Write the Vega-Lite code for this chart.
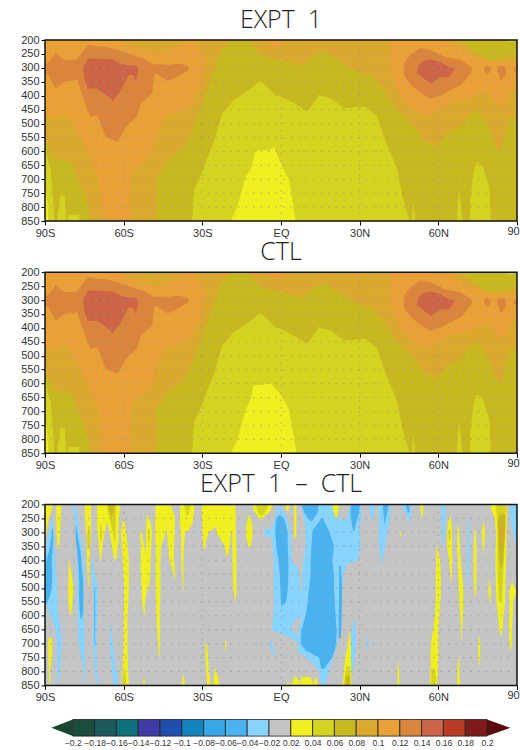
{"$schema":"https://vega.github.io/schema/vega-lite/v6.json","background":"white","padding":{"left":20,"top":8,"right":0,"bottom":0},"spacing":15.5,
"config":{"view":{"stroke":null},"axis":{"title":null,"labelFont":"Liberation Sans","labelFontSize":11,"labelColor":"#333","tickColor":"#000","tickSize":4,"domain":false,"grid":false,"labelPadding":2,"zindex":1,"labelOverlap":false,"labelBound":false,"labelFlush":false},"title":{"font":"Open Sans","fontWeight":300,"fontSize":25,"color":"#222","offset":1,"anchor":"middle"}},
"datasets":{
"f":[{"x":-90,"x2":90,"t":200,"b":850}],
"n":[{"x":88.7,"y":888,"txt":"90"}],
"gx":[{"x":-60},{"x":-30},{"x":0},{"x":30},{"x":60}],
"gy":[{"y":250},{"y":300},{"y":350},{"y":400},{"y":450},{"y":500},{"y":550},{"y":600},{"y":650},{"y":700},{"y":750},{"y":800}],
"m":[
{"s":"base","c":0.06,"x":-90,"t":200,"b":850},{"s":"base","c":0.06,"x":90,"t":200,"b":850},
{"s":"a8","c":0.08,"x":-90,"t":200,"b":559},{"s":"a8","c":0.08,"x":-88.5,"t":200,"b":590},{"s":"a8","c":0.08,"x":-86.5,"t":200,"b":625},{"s":"a8","c":0.08,"x":-84,"t":200,"b":631},{"s":"a8","c":0.08,"x":-80,"t":200,"b":635},{"s":"a8","c":0.08,"x":-78,"t":200,"b":690},{"s":"a8","c":0.08,"x":-75.5,"t":200,"b":740},{"s":"a8","c":0.08,"x":-73.5,"t":200,"b":800},{"s":"a8","c":0.08,"x":-72.7,"t":200,"b":850},{"s":"a8","c":0.08,"x":-47.8,"t":200,"b":850},{"s":"a8","c":0.08,"x":-47.6,"t":200,"b":695},{"s":"a8","c":0.08,"x":-43,"t":200,"b":630},{"s":"a8","c":0.08,"x":-37.5,"t":200,"b":590},{"s":"a8","c":0.08,"x":-34.4,"t":200,"b":535},{"s":"a8","c":0.08,"x":-30.6,"t":200,"b":439},{"s":"a8","c":0.08,"x":-25.5,"t":200,"b":308},{"s":"a8","c":0.08,"x":-22.9,"t":200,"b":236},{"s":"a8","c":0.08,"x":-19.2,"t":200,"b":206},{"s":"a8","c":0.08,"x":-14,"t":200,"b":201},{"s":"a8","c":0.08,"x":-11,"t":200,"b":215},{"s":"a8","c":0.08,"x":-7.8,"t":200,"b":254},{"s":"a8","c":0.08,"x":0,"t":200,"b":272},{"s":"a8","c":0.08,"x":7.5,"t":200,"b":290},{"s":"a8","c":0.08,"x":13.9,"t":200,"b":248},{"s":"a8","c":0.08,"x":17,"t":200,"b":242},{"s":"a8","c":0.08,"x":22.8,"t":200,"b":278},{"s":"a8","c":0.08,"x":29.1,"t":200,"b":314},{"s":"a8","c":0.08,"x":34.2,"t":200,"b":326},{"s":"a8","c":0.08,"x":39.3,"t":200,"b":380},{"s":"a8","c":0.08,"x":44.4,"t":200,"b":451},{"s":"a8","c":0.08,"x":50.7,"t":200,"b":511},{"s":"a8","c":0.08,"x":54.5,"t":200,"b":559},{"s":"a8","c":0.08,"x":59,"t":200,"b":583},{"s":"a8","c":0.08,"x":63.4,"t":200,"b":535},{"s":"a8","c":0.08,"x":68.5,"t":205,"b":511},{"s":"a8","c":0.08,"x":72.3,"t":228,"b":463},{"s":"a8","c":0.08,"x":74.9,"t":255,"b":451},{"s":"a8","c":0.08,"x":78.7,"t":272,"b":499},{"s":"a8","c":0.08,"x":81.9,"t":270,"b":583},{"s":"a8","c":0.08,"x":83.8,"t":268,"b":601},{"s":"a8","c":0.08,"x":85.7,"t":265,"b":535},{"s":"a8","c":0.08,"x":87.6,"t":262,"b":469},{"s":"a8","c":0.08,"x":90,"t":260,"b":499},
{"s":"a10","c":0.1,"x":-90,"t":200,"b":469},{"s":"a10","c":0.1,"x":-87.8,"t":200,"b":475},{"s":"a10","c":0.1,"x":-85.3,"t":200,"b":475},{"s":"a10","c":0.1,"x":-82.1,"t":200,"b":457},{"s":"a10","c":0.1,"x":-79.5,"t":200,"b":499},{"s":"a10","c":0.1,"x":-76,"t":200,"b":559},{"s":"a10","c":0.1,"x":-72.6,"t":200,"b":619},{"s":"a10","c":0.1,"x":-69.6,"t":200,"b":691},{"s":"a10","c":0.1,"x":-68.8,"t":200,"b":775},{"s":"a10","c":0.1,"x":-67.8,"t":200,"b":850},{"s":"a10","c":0.1,"x":-60.5,"t":200,"b":850},{"s":"a10","c":0.1,"x":-57.4,"t":222,"b":850},{"s":"a10","c":0.1,"x":-57.2,"t":222,"b":667},{"s":"a10","c":0.1,"x":-53.5,"t":232,"b":649},{"s":"a10","c":0.1,"x":-49.7,"t":245,"b":607},{"s":"a10","c":0.1,"x":-47.2,"t":248,"b":540},{"s":"a10","c":0.1,"x":-44.6,"t":245,"b":475},{"s":"a10","c":0.1,"x":-39.5,"t":220,"b":457},{"s":"a10","c":0.1,"x":-34.4,"t":200,"b":439},{"s":"a10","c":0.1,"x":-30.6,"t":230,"b":356},{"s":"a10","c":0.1,"x":-28.7,"t":284,"b":284},
{"s":"e10","c":0.1,"x":-5.2,"t":200,"b":200},{"s":"e10","c":0.1,"x":-2.7,"t":200,"b":230},{"s":"e10","c":0.1,"x":0,"t":200,"b":218},{"s":"e10","c":0.1,"x":3.1,"t":200,"b":200},
{"s":"f10","c":0.1,"x":28,"t":200,"b":200},{"s":"f10","c":0.1,"x":29.5,"t":200,"b":209},{"s":"f10","c":0.1,"x":31,"t":200,"b":200},
{"s":"r10","c":0.1,"x":41.6,"t":200,"b":200},{"s":"r10","c":0.1,"x":41.8,"t":200,"b":308},{"s":"r10","c":0.1,"x":45.6,"t":200,"b":403},{"s":"r10","c":0.1,"x":48.2,"t":200,"b":439},{"s":"r10","c":0.1,"x":52,"t":200,"b":457},{"s":"r10","c":0.1,"x":55.8,"t":200,"b":469},{"s":"r10","c":0.1,"x":59,"t":200,"b":457},{"s":"r10","c":0.1,"x":64.7,"t":212,"b":427},{"s":"r10","c":0.1,"x":68.5,"t":230,"b":415},{"s":"r10","c":0.1,"x":73.6,"t":254,"b":403},{"s":"r10","c":0.1,"x":78.7,"t":272,"b":380},{"s":"r10","c":0.1,"x":81.9,"t":275,"b":421},{"s":"r10","c":0.1,"x":83.8,"t":278,"b":445},{"s":"r10","c":0.1,"x":85.7,"t":280,"b":421},{"s":"r10","c":0.1,"x":87.6,"t":282,"b":380},{"s":"r10","c":0.1,"x":90,"t":284,"b":380},
{"s":"l12","c":0.12,"x":-90,"t":284,"b":326},{"s":"l12","c":0.12,"x":-89.1,"t":284,"b":320},{"s":"l12","c":0.12,"x":-85.9,"t":248,"b":374},{"s":"l12","c":0.12,"x":-82.8,"t":272,"b":350},{"s":"l12","c":0.12,"x":-77.7,"t":269,"b":344},{"s":"l12","c":0.12,"x":-75.1,"t":236,"b":415},{"s":"l12","c":0.12,"x":-73.9,"t":220,"b":451},{"s":"l12","c":0.12,"x":-72.6,"t":218,"b":475},{"s":"l12","c":0.12,"x":-70,"t":224,"b":469},{"s":"l12","c":0.12,"x":-66.9,"t":224,"b":547},{"s":"l12","c":0.12,"x":-62.4,"t":236,"b":565},{"s":"l12","c":0.12,"x":-58.6,"t":248,"b":505},{"s":"l12","c":0.12,"x":-54.8,"t":260,"b":475},{"s":"l12","c":0.12,"x":-53.5,"t":263,"b":427},{"s":"l12","c":0.12,"x":-49.1,"t":284,"b":392},{"s":"l12","c":0.12,"x":-48.2,"t":290,"b":320},{"s":"l12","c":0.12,"x":-47.2,"t":286,"b":322},{"s":"l12","c":0.12,"x":-43.3,"t":290,"b":347},{"s":"l12","c":0.12,"x":-39.5,"t":284,"b":332},{"s":"l12","c":0.12,"x":-35.7,"t":292,"b":310},{"s":"l12","c":0.12,"x":-35.2,"t":302,"b":304},
{"s":"l14","c":0.14,"x":-75.4,"t":302,"b":304},{"s":"l14","c":0.14,"x":-75,"t":290,"b":340},{"s":"l14","c":0.14,"x":-73.6,"t":266,"b":375},{"s":"l14","c":0.14,"x":-70,"t":266,"b":374},{"s":"l14","c":0.14,"x":-65,"t":269,"b":409},{"s":"l14","c":0.14,"x":-64.3,"t":270,"b":421},{"s":"l14","c":0.14,"x":-61.1,"t":284,"b":380},{"s":"l14","c":0.14,"x":-58,"t":292,"b":326},{"s":"l14","c":0.14,"x":-56.5,"t":292,"b":326},{"s":"l14","c":0.14,"x":-55.4,"t":292,"b":350},{"s":"l14","c":0.14,"x":-54.4,"t":302,"b":314},
{"s":"r12","c":0.12,"x":46.9,"t":284,"b":326},{"s":"r12","c":0.12,"x":48.2,"t":266,"b":344},{"s":"r12","c":0.12,"x":49.5,"t":254,"b":362},{"s":"r12","c":0.12,"x":52,"t":236,"b":380},{"s":"r12","c":0.12,"x":53.3,"t":230,"b":390},{"s":"r12","c":0.12,"x":57.1,"t":236,"b":412},{"s":"r12","c":0.12,"x":62.2,"t":260,"b":392},{"s":"r12","c":0.12,"x":68.5,"t":272,"b":362},{"s":"r12","c":0.12,"x":72.3,"t":296,"b":320},{"s":"r12","c":0.12,"x":73,"t":308,"b":310},
{"s":"r14","c":0.14,"x":52,"t":296,"b":320},{"s":"r14","c":0.14,"x":54.5,"t":274,"b":338},{"s":"r14","c":0.14,"x":57.1,"t":269,"b":356},{"s":"r14","c":0.14,"x":60.9,"t":280,"b":335},{"s":"r14","c":0.14,"x":64.1,"t":296,"b":332},{"s":"r14","c":0.14,"x":66,"t":302,"b":308},
{"s":"b1","c":0.12,"x":77.4,"t":300,"b":310},{"s":"b1","c":0.12,"x":78.7,"t":292,"b":323},{"s":"b1","c":0.12,"x":80,"t":300,"b":312},
{"s":"b2","c":0.12,"x":82.5,"t":298,"b":312},{"s":"b2","c":0.12,"x":84,"t":292,"b":347},{"s":"b2","c":0.12,"x":85.7,"t":298,"b":320},
{"s":"b3","c":0.12,"x":88.9,"t":300,"b":312},{"s":"b3","c":0.12,"x":90,"t":296,"b":317},
{"s":"g4t","c":0.04,"x":85.7,"t":200,"b":200},{"s":"g4t","c":0.04,"x":87,"t":200,"b":208},{"s":"g4t","c":0.04,"x":89,"t":200,"b":207},{"s":"g4t","c":0.04,"x":89.5,"t":200,"b":200},
{"s":"g4","c":0.04,"x":-33.9,"t":850,"b":850},{"s":"g4","c":0.04,"x":-33.2,"t":739,"b":850},{"s":"g4","c":0.04,"x":-30,"t":673,"b":850},{"s":"g4","c":0.04,"x":-25.5,"t":559,"b":850},{"s":"g4","c":0.04,"x":-22.4,"t":463,"b":850},{"s":"g4","c":0.04,"x":-17.9,"t":415,"b":850},{"s":"g4","c":0.04,"x":-12.2,"t":380,"b":850},{"s":"g4","c":0.04,"x":-7.8,"t":345,"b":850},{"s":"g4","c":0.04,"x":-2.7,"t":392,"b":850},{"s":"g4","c":0.04,"x":5,"t":427,"b":850},{"s":"g4","c":0.04,"x":10,"t":457,"b":850},{"s":"g4","c":0.04,"x":14.5,"t":398,"b":850},{"s":"g4","c":0.04,"x":18.9,"t":409,"b":850},{"s":"g4","c":0.04,"x":24,"t":445,"b":850},{"s":"g4","c":0.04,"x":32.3,"t":439,"b":850},{"s":"g4","c":0.04,"x":36.7,"t":475,"b":850},{"s":"g4","c":0.04,"x":39.3,"t":547,"b":850},{"s":"g4","c":0.04,"x":41.8,"t":607,"b":850},{"s":"g4","c":0.04,"x":44.4,"t":667,"b":850},{"s":"g4","c":0.04,"x":46.3,"t":763,"b":850},{"s":"g4","c":0.04,"x":49.1,"t":850,"b":850},
{"s":"s1","c":0.04,"x":49.8,"t":850,"b":850},{"s":"s1","c":0.04,"x":50.4,"t":787,"b":850},{"s":"s1","c":0.04,"x":51.2,"t":850,"b":850},
{"s":"s2","c":0.04,"x":67.1,"t":850,"b":850},{"s":"s2","c":0.04,"x":67.8,"t":733,"b":850},{"s":"s2","c":0.04,"x":69.3,"t":850,"b":850},
{"s":"s3","c":0.04,"x":72,"t":850,"b":850},{"s":"s3","c":0.04,"x":72.2,"t":775,"b":850},{"s":"s3","c":0.04,"x":73.6,"t":667,"b":850},{"s":"s3","c":0.04,"x":75,"t":637,"b":850},{"s":"s3","c":0.04,"x":77,"t":655,"b":850},{"s":"s3","c":0.04,"x":79.5,"t":727,"b":850},{"s":"s3","c":0.04,"x":80,"t":850,"b":850},
{"s":"s4","c":0.04,"x":-90,"t":565,"b":850},{"s":"s4","c":0.04,"x":-89,"t":631,"b":850},{"s":"s4","c":0.04,"x":-87.8,"t":667,"b":850},{"s":"s4","c":0.04,"x":-87,"t":763,"b":850},{"s":"s4","c":0.04,"x":-86.5,"t":850,"b":850},
{"s":"s5","c":0.04,"x":-85.5,"t":850,"b":850},{"s":"s5","c":0.04,"x":-84,"t":757,"b":850},{"s":"s5","c":0.04,"x":-82.5,"t":763,"b":850},{"s":"s5","c":0.04,"x":-82,"t":850,"b":850},
{"s":"s6","c":0.04,"x":-81.5,"t":850,"b":850},{"s":"s6","c":0.04,"x":-81,"t":828,"b":850},{"s":"s6","c":0.04,"x":-77,"t":828,"b":850},{"s":"s6","c":0.04,"x":-76.8,"t":850,"b":850},
{"s":"s7","c":0.02,"x":-90,"t":727,"b":850},{"s":"s7","c":0.02,"x":-89.2,"t":775,"b":850},{"s":"s7","c":0.02,"x":-88.7,"t":850,"b":850},
{"s":"c2a","c":0.02,"x":-19.2,"t":850,"b":850},{"s":"c2a","c":0.02,"x":-16.6,"t":799,"b":850},{"s":"c2a","c":0.02,"x":-13.5,"t":691,"b":850},{"s":"c2a","c":0.02,"x":-11.6,"t":667,"b":850},{"s":"c2a","c":0.02,"x":-9.7,"t":601,"b":850},{"s":"c2a","c":0.02,"x":-7.7,"t":595,"b":850},{"s":"c2a","c":0.02,"x":-4.6,"t":597,"b":850},{"s":"c2a","c":0.02,"x":-2.7,"t":583,"b":850},{"s":"c2a","c":0.02,"x":-1.4,"t":613,"b":850},{"s":"c2a","c":0.02,"x":1.1,"t":667,"b":850},{"s":"c2a","c":0.02,"x":3.1,"t":703,"b":850},{"s":"c2a","c":0.02,"x":5.6,"t":850,"b":850},
{"s":"c2b","c":0.02,"x":-19.2,"t":850,"b":850},{"s":"c2b","c":0.02,"x":-16.6,"t":802,"b":850},{"s":"c2b","c":0.02,"x":-13.5,"t":694,"b":850},{"s":"c2b","c":0.02,"x":-11.6,"t":658,"b":850},{"s":"c2b","c":0.02,"x":-10.5,"t":605,"b":850},{"s":"c2b","c":0.02,"x":-7.7,"t":605,"b":850},{"s":"c2b","c":0.02,"x":-3.9,"t":599,"b":850},{"s":"c2b","c":0.02,"x":-2.7,"t":611,"b":850},{"s":"c2b","c":0.02,"x":0,"t":640,"b":850},{"s":"c2b","c":0.02,"x":3.1,"t":694,"b":850},{"s":"c2b","c":0.02,"x":5.9,"t":850,"b":850}
],
"d":[
{"s":"bg","c":-0.02,"y":200,"l":-90,"r":90},{"s":"bg","c":-0.02,"y":850,"l":-90,"r":90},
{"s":"L1","c":-0.04,"y":207,"l":-1.1,"r":0.1},{"s":"L1","c":-0.04,"y":250,"l":-2.4,"r":2.4},{"s":"L1","c":-0.04,"y":280,"l":-3.2,"r":3.2},{"s":"L1","c":-0.04,"y":295,"l":-6.7,"r":3.7},{"s":"L1","c":-0.04,"y":315,"l":-6,"r":3.7},{"s":"L1","c":-0.04,"y":320,"l":-3.5,"r":3.7},{"s":"L1","c":-0.04,"y":350,"l":-3.3,"r":3.7},{"s":"L1","c":-0.04,"y":400,"l":-2.9,"r":4.2},{"s":"L1","c":-0.04,"y":430,"l":-2.9,"r":6.5},{"s":"L1","c":-0.04,"y":450,"l":-2.9,"r":7},{"s":"L1","c":-0.04,"y":500,"l":-2.9,"r":7.5},{"s":"L1","c":-0.04,"y":550,"l":-2.7,"r":9.4},{"s":"L1","c":-0.04,"y":590,"l":-2.9,"r":9.4},{"s":"L1","c":-0.04,"y":620,"l":-3.2,"r":5},{"s":"L1","c":-0.04,"y":640,"l":-3.4,"r":4},{"s":"L1","c":-0.04,"y":655,"l":-3.2,"r":4.5},{"s":"L1","c":-0.04,"y":660,"l":-1,"r":5.5},{"s":"L1","c":-0.04,"y":680,"l":4,"r":7},{"s":"L1","c":-0.04,"y":695,"l":6,"r":8},
{"s":"L2","c":-0.04,"y":200,"l":7.5,"r":19},{"s":"L2","c":-0.04,"y":250,"l":8.8,"r":21.5},{"s":"L2","c":-0.04,"y":265,"l":9,"r":30},{"s":"L2","c":-0.04,"y":300,"l":9.4,"r":30},{"s":"L2","c":-0.04,"y":350,"l":9.4,"r":30.4},{"s":"L2","c":-0.04,"y":400,"l":8.5,"r":29.5},{"s":"L2","c":-0.04,"y":415,"l":8.3,"r":25},{"s":"L2","c":-0.04,"y":450,"l":8.1,"r":24},{"s":"L2","c":-0.04,"y":500,"l":8.1,"r":23.4},{"s":"L2","c":-0.04,"y":600,"l":8.1,"r":23},{"s":"L2","c":-0.04,"y":650,"l":6.8,"r":22.1},{"s":"L2","c":-0.04,"y":700,"l":6.5,"r":21.5},{"s":"L2","c":-0.04,"y":725,"l":6.2,"r":21},{"s":"L2","c":-0.04,"y":745,"l":8.8,"r":20},{"s":"L2","c":-0.04,"y":775,"l":12.7,"r":19},{"s":"L2","c":-0.04,"y":800,"l":14.5,"r":18.3},{"s":"L2","c":-0.04,"y":850,"l":15.5,"r":17},
{"s":"L3","c":-0.04,"y":200,"l":26.5,"r":30.7},{"s":"L3","c":-0.04,"y":265,"l":25,"r":30.7},
{"s":"L4","c":-0.04,"y":615,"l":27.8,"r":28.1},{"s":"L4","c":-0.04,"y":650,"l":27,"r":28.6},{"s":"L4","c":-0.04,"y":700,"l":26.6,"r":28.6},{"s":"L4","c":-0.04,"y":750,"l":26.5,"r":28.3},{"s":"L4","c":-0.04,"y":790,"l":26.5,"r":27.5},{"s":"L4","c":-0.04,"y":800,"l":26.4,"r":26.8},
{"s":"L5","c":-0.04,"y":200,"l":33.3,"r":36},{"s":"L5","c":-0.04,"y":225,"l":33.8,"r":35.5},{"s":"L5","c":-0.04,"y":255,"l":34.5,"r":34.8},
{"s":"L6","c":-0.04,"y":200,"l":37.2,"r":41.7},{"s":"L6","c":-0.04,"y":250,"l":37.2,"r":41.7},{"s":"L6","c":-0.04,"y":300,"l":37.2,"r":40.5},{"s":"L6","c":-0.04,"y":350,"l":37.5,"r":39.8},{"s":"L6","c":-0.04,"y":400,"l":38,"r":38.8},{"s":"L6","c":-0.04,"y":410,"l":38.3,"r":38.6},
{"s":"L7","c":-0.04,"y":200,"l":46,"r":50.2},{"s":"L7","c":-0.04,"y":220,"l":46.8,"r":49.5},{"s":"L7","c":-0.04,"y":250,"l":48.5,"r":49.5},{"s":"L7","c":-0.04,"y":265,"l":49,"r":49.3},
{"s":"L8","c":-0.04,"y":200,"l":60.9,"r":62.7},{"s":"L8","c":-0.04,"y":250,"l":61,"r":62.7},{"s":"L8","c":-0.04,"y":300,"l":61.4,"r":62.6},{"s":"L8","c":-0.04,"y":350,"l":61.7,"r":62},{"s":"L8","c":-0.04,"y":355,"l":61.8,"r":61.9},
{"s":"L9","c":-0.04,"y":245,"l":71.6,"r":71.8},{"s":"L9","c":-0.04,"y":300,"l":71.2,"r":72},{"s":"L9","c":-0.04,"y":400,"l":71,"r":71.9},{"s":"L9","c":-0.04,"y":450,"l":70.9,"r":71.6},{"s":"L9","c":-0.04,"y":500,"l":71,"r":71.3},{"s":"L9","c":-0.04,"y":510,"l":71.1,"r":71.2},
{"s":"L10","c":-0.04,"y":200,"l":87.2,"r":90},{"s":"L10","c":-0.04,"y":250,"l":87.3,"r":90},{"s":"L10","c":-0.04,"y":300,"l":88.5,"r":90},{"s":"L10","c":-0.04,"y":350,"l":89.8,"r":90},
{"s":"L11","c":-0.04,"y":670,"l":32.9,"r":33.1},{"s":"L11","c":-0.04,"y":700,"l":32.7,"r":33.4},{"s":"L11","c":-0.04,"y":725,"l":32.9,"r":33.1},
{"s":"L12","c":-0.04,"y":690,"l":-4,"r":-3.8},{"s":"L12","c":-0.04,"y":715,"l":-4.2,"r":-2.9},{"s":"L12","c":-0.04,"y":745,"l":-3,"r":-2.7},
{"s":"L13","c":-0.04,"y":690,"l":-9.3,"r":-9.2},{"s":"L13","c":-0.04,"y":705,"l":-9.4,"r":-9},
{"s":"L14","c":-0.04,"y":290,"l":-32.2,"r":-32},{"s":"L14","c":-0.04,"y":320,"l":-32.2,"r":-32},
{"s":"B1","c":-0.04,"y":255,"l":-87.5,"r":-87},{"s":"B1","c":-0.04,"y":300,"l":-88.7,"r":-86.6},{"s":"B1","c":-0.04,"y":350,"l":-89.5,"r":-86.3},{"s":"B1","c":-0.04,"y":400,"l":-90,"r":-85.9},{"s":"B1","c":-0.04,"y":500,"l":-90,"r":-85.3},{"s":"B1","c":-0.04,"y":575,"l":-89.1,"r":-85},{"s":"B1","c":-0.04,"y":600,"l":-87.8,"r":-84.7},{"s":"B1","c":-0.04,"y":650,"l":-85.9,"r":-84},{"s":"B1","c":-0.04,"y":700,"l":-85.5,"r":-83.6},{"s":"B1","c":-0.04,"y":750,"l":-85.5,"r":-84},{"s":"B1","c":-0.04,"y":800,"l":-85.3,"r":-84.3},{"s":"B1","c":-0.04,"y":850,"l":-85.3,"r":-84.8},
{"s":"B1b","c":-0.04,"y":575,"l":-90,"r":-90},{"s":"B1b","c":-0.04,"y":620,"l":-90,"r":-89.4},{"s":"B1b","c":-0.04,"y":670,"l":-90,"r":-90},
{"s":"B3","c":-0.04,"y":200,"l":-79.4,"r":-78.4},{"s":"B3","c":-0.04,"y":255,"l":-78.7,"r":-77.4},{"s":"B3","c":-0.04,"y":300,"l":-78.4,"r":-76.7},{"s":"B3","c":-0.04,"y":350,"l":-77.9,"r":-75.8},{"s":"B3","c":-0.04,"y":400,"l":-77.9,"r":-75.1},{"s":"B3","c":-0.04,"y":550,"l":-77.7,"r":-75.1},{"s":"B3","c":-0.04,"y":600,"l":-77.5,"r":-75.1},{"s":"B3","c":-0.04,"y":650,"l":-77.5,"r":-74.9},{"s":"B3","c":-0.04,"y":700,"l":-77.2,"r":-74.9},{"s":"B3","c":-0.04,"y":750,"l":-76,"r":-74.6},{"s":"B3","c":-0.04,"y":800,"l":-75.4,"r":-74.9},{"s":"B3","c":-0.04,"y":850,"l":-75.1,"r":-74.9},
{"s":"B5","c":-0.04,"y":400,"l":-72,"r":-71.8},{"s":"B5","c":-0.04,"y":430,"l":-72.3,"r":-71.3},{"s":"B5","c":-0.04,"y":500,"l":-71.7,"r":-69.8},{"s":"B5","c":-0.04,"y":600,"l":-71.7,"r":-70},{"s":"B5","c":-0.04,"y":700,"l":-71.8,"r":-70.5},{"s":"B5","c":-0.04,"y":800,"l":-71,"r":-70},{"s":"B5","c":-0.04,"y":850,"l":-70.3,"r":-69.6},
{"s":"B7","c":-0.04,"y":625,"l":-65,"r":-64.8},{"s":"B7","c":-0.04,"y":700,"l":-65.3,"r":-64.2},{"s":"B7","c":-0.04,"y":750,"l":-65,"r":-63.5},{"s":"B7","c":-0.04,"y":800,"l":-64.5,"r":-62.7},{"s":"B7","c":-0.04,"y":850,"l":-63.8,"r":-61.9},
{"s":"M1","c":-0.06,"y":240,"l":-1,"r":0},{"s":"M1","c":-0.06,"y":260,"l":-2,"r":1.5},{"s":"M1","c":-0.06,"y":300,"l":-2.2,"r":2.5},{"s":"M1","c":-0.06,"y":350,"l":-1.8,"r":2.6},{"s":"M1","c":-0.06,"y":400,"l":-1,"r":2.8},{"s":"M1","c":-0.06,"y":450,"l":-0.5,"r":2.8},{"s":"M1","c":-0.06,"y":500,"l":-0.2,"r":2.6},{"s":"M1","c":-0.06,"y":550,"l":0,"r":2},{"s":"M1","c":-0.06,"y":565,"l":0.1,"r":0.3},
{"s":"M2","c":-0.06,"y":200,"l":7.8,"r":14.5},{"s":"M2","c":-0.06,"y":230,"l":8.8,"r":14},{"s":"M2","c":-0.06,"y":250,"l":10.3,"r":12.6},{"s":"M2","c":-0.06,"y":260,"l":11,"r":12},
{"s":"M3","c":-0.06,"y":250,"l":15.5,"r":16},{"s":"M3","c":-0.06,"y":295,"l":12,"r":18.3},{"s":"M3","c":-0.06,"y":350,"l":11.6,"r":20.2},{"s":"M3","c":-0.06,"y":400,"l":11.3,"r":19.6},{"s":"M3","c":-0.06,"y":450,"l":11.3,"r":20.2},{"s":"M3","c":-0.06,"y":500,"l":10.7,"r":20.2},{"s":"M3","c":-0.06,"y":550,"l":10.2,"r":20.5},{"s":"M3","c":-0.06,"y":600,"l":9.4,"r":20.8},{"s":"M3","c":-0.06,"y":650,"l":7.8,"r":21.2},{"s":"M3","c":-0.06,"y":700,"l":7.5,"r":21},{"s":"M3","c":-0.06,"y":725,"l":9.4,"r":20.5},{"s":"M3","c":-0.06,"y":750,"l":14.5,"r":19.5},{"s":"M3","c":-0.06,"y":790,"l":15.4,"r":16.4},
{"s":"M4","c":-0.06,"y":420,"l":22.2,"r":22.8},{"s":"M4","c":-0.06,"y":500,"l":22.2,"r":23.3},{"s":"M4","c":-0.06,"y":600,"l":22,"r":23.2},{"s":"M4","c":-0.06,"y":680,"l":22,"r":22.8},
{"s":"M5","c":-0.06,"y":200,"l":26.5,"r":30.2},{"s":"M5","c":-0.06,"y":240,"l":26.6,"r":29.5},{"s":"M5","c":-0.06,"y":270,"l":27,"r":28.5},{"s":"M5","c":-0.06,"y":295,"l":27.5,"r":28},
{"s":"M6","c":-0.06,"y":200,"l":38.9,"r":41},{"s":"M6","c":-0.06,"y":230,"l":39,"r":40.5},{"s":"M6","c":-0.06,"y":250,"l":39.3,"r":40},{"s":"M6","c":-0.06,"y":270,"l":39.5,"r":39.7},
{"s":"M7","c":-0.06,"y":200,"l":47.8,"r":49},{"s":"M7","c":-0.06,"y":230,"l":48.3,"r":48.8},
{"s":"M8","c":-0.06,"y":285,"l":-87.2,"r":-87},{"s":"M8","c":-0.06,"y":320,"l":-87.6,"r":-86.8},{"s":"M8","c":-0.06,"y":370,"l":-88.5,"r":-87.2},{"s":"M8","c":-0.06,"y":400,"l":-89.5,"r":-87.5},{"s":"M8","c":-0.06,"y":450,"l":-90,"r":-87.2},{"s":"M8","c":-0.06,"y":500,"l":-90,"r":-87.4},{"s":"M8","c":-0.06,"y":530,"l":-90,"r":-88.2},{"s":"M8","c":-0.06,"y":560,"l":-90,"r":-89.5},
{"s":"M9","c":-0.06,"y":275,"l":-78.3,"r":-78.1},{"s":"M9","c":-0.06,"y":320,"l":-78.3,"r":-77.4},{"s":"M9","c":-0.06,"y":370,"l":-77.7,"r":-76.4},{"s":"M9","c":-0.06,"y":420,"l":-77.2,"r":-76},{"s":"M9","c":-0.06,"y":470,"l":-77,"r":-75.5},{"s":"M9","c":-0.06,"y":530,"l":-77,"r":-75.3},{"s":"M9","c":-0.06,"y":580,"l":-76.8,"r":-75.5},{"s":"M9","c":-0.06,"y":610,"l":-76.4,"r":-75.8},
{"s":"M10","c":-0.06,"y":500,"l":-71.2,"r":-70.9},{"s":"M10","c":-0.06,"y":600,"l":-71.2,"r":-70.8},{"s":"M10","c":-0.06,"y":710,"l":-71.1,"r":-70.9},
{"s":"Y1","c":0.02,"y":200,"l":-90,"r":-87.1},{"s":"Y1","c":0.02,"y":225,"l":-90,"r":-87.6},{"s":"Y1","c":0.02,"y":250,"l":-90,"r":-88.5},{"s":"Y1","c":0.02,"y":300,"l":-90,"r":-89.5},{"s":"Y1","c":0.02,"y":320,"l":-90,"r":-90},
{"s":"Y2","c":0.02,"y":200,"l":-85.7,"r":-83.8},{"s":"Y2","c":0.02,"y":250,"l":-85.7,"r":-83.9},{"s":"Y2","c":0.02,"y":300,"l":-85.6,"r":-84.3},{"s":"Y2","c":0.02,"y":350,"l":-85.2,"r":-84.5},{"s":"Y2","c":0.02,"y":360,"l":-84.9,"r":-84.8},
{"s":"Y3","c":0.02,"y":200,"l":-74.9,"r":-72.4},{"s":"Y3","c":0.02,"y":250,"l":-74.7,"r":-72.5},{"s":"Y3","c":0.02,"y":300,"l":-74.3,"r":-72.4},{"s":"Y3","c":0.02,"y":350,"l":-74,"r":-72.8},{"s":"Y3","c":0.02,"y":400,"l":-74,"r":-73},{"s":"Y3","c":0.02,"y":450,"l":-73.8,"r":-73.3},{"s":"Y3","c":0.02,"y":510,"l":-73.4,"r":-73.3},
{"s":"Y4a","c":0.02,"y":200,"l":-70.2,"r":-66},{"s":"Y4a","c":0.02,"y":270,"l":-70.2,"r":-66.5},{"s":"Y4a","c":0.02,"y":300,"l":-70,"r":-67.2},{"s":"Y4a","c":0.02,"y":330,"l":-69.6,"r":-67.8},{"s":"Y4a","c":0.02,"y":370,"l":-69.3,"r":-68.3},{"s":"Y4a","c":0.02,"y":400,"l":-69,"r":-68.6},
{"s":"Y4b","c":0.02,"y":200,"l":-67,"r":-61.4},{"s":"Y4b","c":0.02,"y":250,"l":-67,"r":-61.7},{"s":"Y4b","c":0.02,"y":280,"l":-65.8,"r":-62},{"s":"Y4b","c":0.02,"y":320,"l":-65,"r":-62},{"s":"Y4b","c":0.02,"y":350,"l":-64.5,"r":-62.2},{"s":"Y4b","c":0.02,"y":390,"l":-63.7,"r":-62.6},{"s":"Y4b","c":0.02,"y":400,"l":-63.3,"r":-63},
{"s":"Y5","c":0.02,"y":255,"l":-60.3,"r":-59.8},{"s":"Y5","c":0.02,"y":300,"l":-61,"r":-59},{"s":"Y5","c":0.02,"y":400,"l":-60.4,"r":-58},{"s":"Y5","c":0.02,"y":500,"l":-59.8,"r":-58},{"s":"Y5","c":0.02,"y":600,"l":-60,"r":-58.5},{"s":"Y5","c":0.02,"y":700,"l":-60,"r":-58.5},{"s":"Y5","c":0.02,"y":800,"l":-60.5,"r":-58.3},{"s":"Y5","c":0.02,"y":850,"l":-60.5,"r":-58},
{"s":"Y6","c":0.02,"y":400,"l":-80.9,"r":-80.7},{"s":"Y6","c":0.02,"y":450,"l":-81,"r":-79.9},{"s":"Y6","c":0.02,"y":500,"l":-81.2,"r":-79.2},{"s":"Y6","c":0.02,"y":550,"l":-81.1,"r":-79.5},{"s":"Y6","c":0.02,"y":595,"l":-80.6,"r":-80},
{"s":"Y7","c":0.02,"y":680,"l":-88.7,"r":-87.2},{"s":"Y7","c":0.02,"y":750,"l":-88.7,"r":-87.4},{"s":"Y7","c":0.02,"y":800,"l":-88.6,"r":-88},{"s":"Y7","c":0.02,"y":850,"l":-88.4,"r":-88},
{"s":"Y8","c":0.02,"y":295,"l":-53.8,"r":-53.2},{"s":"Y8","c":0.02,"y":350,"l":-53.5,"r":-52.2},{"s":"Y8","c":0.02,"y":400,"l":-53.5,"r":-51},{"s":"Y8","c":0.02,"y":450,"l":-53.5,"r":-51},{"s":"Y8","c":0.02,"y":500,"l":-53.2,"r":-51},{"s":"Y8","c":0.02,"y":550,"l":-53,"r":-51.8},{"s":"Y8","c":0.02,"y":600,"l":-52.2,"r":-52},
{"s":"Y8b","c":0.02,"y":235,"l":-51,"r":-50.8},{"s":"Y8b","c":0.02,"y":260,"l":-51.3,"r":-49.8},{"s":"Y8b","c":0.02,"y":300,"l":-51.5,"r":-49.2},{"s":"Y8b","c":0.02,"y":350,"l":-51.5,"r":-49.5},{"s":"Y8b","c":0.02,"y":400,"l":-51.5,"r":-49.7},{"s":"Y8b","c":0.02,"y":450,"l":-51.3,"r":-49.8},{"s":"Y8b","c":0.02,"y":510,"l":-50.7,"r":-50.4},
{"s":"Y9","c":0.02,"y":200,"l":-47.8,"r":-44},{"s":"Y9","c":0.02,"y":250,"l":-48,"r":-43},{"s":"Y9","c":0.02,"y":300,"l":-48,"r":-44},{"s":"Y9","c":0.02,"y":350,"l":-47.8,"r":-45.6},{"s":"Y9","c":0.02,"y":400,"l":-47.8,"r":-46},{"s":"Y9","c":0.02,"y":500,"l":-47.8,"r":-46},{"s":"Y9","c":0.02,"y":600,"l":-47.5,"r":-46.2},{"s":"Y9","c":0.02,"y":700,"l":-47,"r":-46.2},{"s":"Y9","c":0.02,"y":745,"l":-46.6,"r":-46.3},
{"s":"Y9b","c":0.02,"y":200,"l":-44.8,"r":-42.2},{"s":"Y9b","c":0.02,"y":240,"l":-43.5,"r":-40.5},{"s":"Y9b","c":0.02,"y":300,"l":-43.5,"r":-40.5},{"s":"Y9b","c":0.02,"y":350,"l":-43,"r":-40.8},{"s":"Y9b","c":0.02,"y":400,"l":-42.5,"r":-40.8},{"s":"Y9b","c":0.02,"y":450,"l":-41,"r":-40.3},{"s":"Y9b","c":0.02,"y":465,"l":-40.8,"r":-40.5},
{"s":"Y10","c":0.02,"y":200,"l":-38.5,"r":-33},{"s":"Y10","c":0.02,"y":240,"l":-38.5,"r":-33.2},{"s":"Y10","c":0.02,"y":270,"l":-38.6,"r":-33.8},{"s":"Y10","c":0.02,"y":290,"l":-38.3,"r":-35},{"s":"Y10","c":0.02,"y":300,"l":-38.2,"r":-36.5},{"s":"Y10","c":0.02,"y":350,"l":-38,"r":-37},{"s":"Y10","c":0.02,"y":400,"l":-38,"r":-37.2},{"s":"Y10","c":0.02,"y":450,"l":-37.8,"r":-37.2},{"s":"Y10","c":0.02,"y":510,"l":-37.5,"r":-37.3},
{"s":"Y10b","c":0.02,"y":820,"l":-52.4,"r":-52.2},{"s":"Y10b","c":0.02,"y":850,"l":-52.6,"r":-51.8},
{"s":"Y10c","c":0.02,"y":810,"l":-37.5,"r":-37.2},{"s":"Y10c","c":0.02,"y":850,"l":-37.8,"r":-36.5},
{"s":"Y12a","c":0.02,"y":200,"l":-30.2,"r":-25},{"s":"Y12a","c":0.02,"y":250,"l":-30.2,"r":-24},{"s":"Y12a","c":0.02,"y":275,"l":-30,"r":-24},{"s":"Y12a","c":0.02,"y":300,"l":-30,"r":-27.5},{"s":"Y12a","c":0.02,"y":330,"l":-29.7,"r":-28.5},{"s":"Y12a","c":0.02,"y":360,"l":-29.6,"r":-29},
{"s":"Y12b","c":0.02,"y":200,"l":-26,"r":-17.3},{"s":"Y12b","c":0.02,"y":250,"l":-27,"r":-17.3},{"s":"Y12b","c":0.02,"y":275,"l":-24.5,"r":-17.5},{"s":"Y12b","c":0.02,"y":300,"l":-24.7,"r":-19},{"s":"Y12b","c":0.02,"y":350,"l":-21.5,"r":-19.5},{"s":"Y12b","c":0.02,"y":385,"l":-20.9,"r":-20.3},
{"s":"Y12c","c":0.02,"y":250,"l":-18.6,"r":-17.3},{"s":"Y12c","c":0.02,"y":300,"l":-18.6,"r":-17.2},{"s":"Y12c","c":0.02,"y":350,"l":-18.6,"r":-17},{"s":"Y12c","c":0.02,"y":400,"l":-18.5,"r":-17},{"s":"Y12c","c":0.02,"y":450,"l":-18.4,"r":-17},{"s":"Y12c","c":0.02,"y":500,"l":-18.2,"r":-17},{"s":"Y12c","c":0.02,"y":530,"l":-17.8,"r":-17.1},{"s":"Y12c","c":0.02,"y":545,"l":-17.5,"r":-17.3},
{"s":"Y13","c":0.02,"y":240,"l":-12.4,"r":-12},{"s":"Y13","c":0.02,"y":270,"l":-13.2,"r":-11},{"s":"Y13","c":0.02,"y":300,"l":-13.4,"r":-10.8},{"s":"Y13","c":0.02,"y":330,"l":-13,"r":-11},{"s":"Y13","c":0.02,"y":355,"l":-12.3,"r":-11.9},
{"s":"Y14","c":0.02,"y":200,"l":-10.7,"r":-3.3},{"s":"Y14","c":0.02,"y":225,"l":-10.4,"r":-4},{"s":"Y14","c":0.02,"y":240,"l":-9,"r":-6},{"s":"Y14","c":0.02,"y":255,"l":-8,"r":-7.5},
{"s":"Y15","c":0.02,"y":200,"l":1.5,"r":3.4},{"s":"Y15","c":0.02,"y":225,"l":2.2,"r":2.7},
{"s":"Y15b","c":0.02,"y":200,"l":5,"r":5.9},{"s":"Y15b","c":0.02,"y":300,"l":5,"r":5.8},{"s":"Y15b","c":0.02,"y":320,"l":5.1,"r":5.8},
{"s":"Y16","c":0.02,"y":200,"l":19.6,"r":22.1},{"s":"Y16","c":0.02,"y":225,"l":20,"r":21.8},{"s":"Y16","c":0.02,"y":250,"l":20.8,"r":21.2},
{"s":"Y17","c":0.02,"y":685,"l":-21.2,"r":-21},{"s":"Y17","c":0.02,"y":705,"l":-21.3,"r":-20.8},{"s":"Y17","c":0.02,"y":730,"l":-21.1,"r":-21},
{"s":"Y18","c":0.02,"y":700,"l":-28.8,"r":-28.2},{"s":"Y18","c":0.02,"y":750,"l":-28.8,"r":-27.8},{"s":"Y18","c":0.02,"y":800,"l":-28.5,"r":-27.5},{"s":"Y18","c":0.02,"y":850,"l":-28.2,"r":-26.8},
{"s":"Y19","c":0.02,"y":790,"l":-25.3,"r":-25},{"s":"Y19","c":0.02,"y":820,"l":-25.6,"r":-24},{"s":"Y19","c":0.02,"y":850,"l":-25.9,"r":-23.4},
{"s":"Y20","c":0.02,"y":840,"l":2.2,"r":2.6},{"s":"Y20","c":0.02,"y":850,"l":2.2,"r":3.4},
{"s":"Y21","c":0.02,"y":815,"l":5.3,"r":5.7},{"s":"Y21","c":0.02,"y":835,"l":4.5,"r":7},{"s":"Y21","c":0.02,"y":850,"l":3.7,"r":7.5},
{"s":"Y22","c":0.02,"y":820,"l":7.8,"r":11},{"s":"Y22","c":0.02,"y":835,"l":7.5,"r":12},{"s":"Y22","c":0.02,"y":850,"l":7.3,"r":12.5},
{"s":"Y23","c":0.02,"y":820,"l":12.9,"r":13.3},{"s":"Y23","c":0.02,"y":850,"l":12.5,"r":14.3},
{"s":"Y24","c":0.02,"y":660,"l":26,"r":26.4},{"s":"Y24","c":0.02,"y":700,"l":25.5,"r":26.6},{"s":"Y24","c":0.02,"y":750,"l":24.5,"r":26.7},{"s":"Y24","c":0.02,"y":800,"l":24,"r":26.8},{"s":"Y24","c":0.02,"y":850,"l":23.5,"r":26.8},
{"s":"Y25","c":0.02,"y":200,"l":53,"r":54.4},{"s":"Y25","c":0.02,"y":225,"l":53.3,"r":54.2},{"s":"Y25","c":0.02,"y":250,"l":53.6,"r":53.9},
{"s":"Y26","c":0.02,"y":245,"l":64.2,"r":64.7},{"s":"Y26","c":0.02,"y":270,"l":63.6,"r":65},{"s":"Y26","c":0.02,"y":300,"l":63.3,"r":65.2},{"s":"Y26","c":0.02,"y":350,"l":63.4,"r":65.2},{"s":"Y26","c":0.02,"y":400,"l":64,"r":65.3},{"s":"Y26","c":0.02,"y":450,"l":64.5,"r":65.1},{"s":"Y26","c":0.02,"y":480,"l":64.8,"r":65},
{"s":"Y27","c":0.02,"y":280,"l":67.2,"r":67.8},{"s":"Y27","c":0.02,"y":350,"l":67.1,"r":68.2},{"s":"Y27","c":0.02,"y":400,"l":67.4,"r":68.5},{"s":"Y27","c":0.02,"y":450,"l":67.5,"r":69},{"s":"Y27","c":0.02,"y":500,"l":67.8,"r":69.5},{"s":"Y27","c":0.02,"y":550,"l":68,"r":69.5},{"s":"Y27","c":0.02,"y":600,"l":68.4,"r":69.4},{"s":"Y27","c":0.02,"y":650,"l":68.6,"r":69.1},{"s":"Y27","c":0.02,"y":690,"l":68.8,"r":69},
{"s":"Y28","c":0.02,"y":290,"l":73.8,"r":74.2},{"s":"Y28","c":0.02,"y":350,"l":73.5,"r":74.5},{"s":"Y28","c":0.02,"y":450,"l":73.5,"r":74.5},{"s":"Y28","c":0.02,"y":500,"l":73.7,"r":74.5},{"s":"Y28","c":0.02,"y":530,"l":74,"r":74.3},
{"s":"Y29","c":0.02,"y":265,"l":77.1,"r":77.3},{"s":"Y29","c":0.02,"y":300,"l":76.6,"r":77.9},{"s":"Y29","c":0.02,"y":340,"l":76.8,"r":77.6},{"s":"Y29","c":0.02,"y":375,"l":77.2,"r":77.4},
{"s":"Y30","c":0.02,"y":470,"l":79.4,"r":79.7},{"s":"Y30","c":0.02,"y":510,"l":79,"r":80},{"s":"Y30","c":0.02,"y":550,"l":79.4,"r":79.8},
{"s":"Y31","c":0.02,"y":200,"l":79.8,"r":86.2},{"s":"Y31","c":0.02,"y":225,"l":80.4,"r":86.2},{"s":"Y31","c":0.02,"y":250,"l":81.5,"r":86.1},{"s":"Y31","c":0.02,"y":300,"l":82,"r":86},{"s":"Y31","c":0.02,"y":400,"l":81.8,"r":85.9},{"s":"Y31","c":0.02,"y":500,"l":82,"r":85.5},{"s":"Y31","c":0.02,"y":550,"l":82.2,"r":85.4},{"s":"Y31","c":0.02,"y":600,"l":82.8,"r":84.9},{"s":"Y31","c":0.02,"y":650,"l":83.3,"r":84.5},{"s":"Y31","c":0.02,"y":670,"l":83.7,"r":84.2},
{"s":"Y32","c":0.02,"y":480,"l":88,"r":88.2},{"s":"Y32","c":0.02,"y":510,"l":87,"r":89.7},{"s":"Y32","c":0.02,"y":550,"l":87.1,"r":88.6},{"s":"Y32","c":0.02,"y":600,"l":87,"r":88.4},{"s":"Y32","c":0.02,"y":650,"l":87,"r":88},{"s":"Y32","c":0.02,"y":700,"l":87,"r":88},{"s":"Y32","c":0.02,"y":720,"l":87.3,"r":87.8},
{"s":"Y33","c":0.02,"y":675,"l":75.3,"r":75.6},{"s":"Y33","c":0.02,"y":710,"l":75.1,"r":76},{"s":"Y33","c":0.02,"y":750,"l":75.2,"r":75.9},{"s":"Y33","c":0.02,"y":775,"l":75.4,"r":75.7},
{"s":"Y34","c":0.02,"y":350,"l":59.2,"r":59.6},{"s":"Y34","c":0.02,"y":400,"l":59.2,"r":60.6},{"s":"Y34","c":0.02,"y":450,"l":59,"r":61},{"s":"Y34","c":0.02,"y":500,"l":59,"r":61},{"s":"Y34","c":0.02,"y":550,"l":59,"r":60.8},{"s":"Y34","c":0.02,"y":600,"l":58.7,"r":60.4},{"s":"Y34","c":0.02,"y":650,"l":58,"r":60},{"s":"Y34","c":0.02,"y":700,"l":57.2,"r":60},{"s":"Y34","c":0.02,"y":750,"l":57,"r":60},{"s":"Y34","c":0.02,"y":800,"l":57,"r":59.8},{"s":"Y34","c":0.02,"y":850,"l":56.8,"r":59.6},
{"s":"Y35","c":0.02,"y":745,"l":67.9,"r":68.1},{"s":"Y35","c":0.02,"y":780,"l":67.3,"r":68},{"s":"Y35","c":0.02,"y":850,"l":67.1,"r":68.2},
{"s":"Y36","c":0.02,"y":765,"l":44.7,"r":44.9},{"s":"Y36","c":0.02,"y":800,"l":44.3,"r":45},{"s":"Y36","c":0.02,"y":850,"l":44.4,"r":45.2},
{"s":"Y37","c":0.02,"y":300,"l":45.5,"r":45.7},{"s":"Y37","c":0.02,"y":310,"l":45.3,"r":45.9},{"s":"Y37","c":0.02,"y":320,"l":45.6,"r":45.7},
{"s":"G1","c":0.04,"y":275,"l":-73.5,"r":-73},{"s":"G1","c":0.04,"y":320,"l":-74,"r":-72.6},{"s":"G1","c":0.04,"y":360,"l":-73.8,"r":-73},
{"s":"G2","c":0.04,"y":270,"l":-68.9,"r":-68.6},{"s":"G2","c":0.04,"y":300,"l":-69.1,"r":-68.3},{"s":"G2","c":0.04,"y":330,"l":-68.9,"r":-68.5},
{"s":"G3","c":0.04,"y":200,"l":-66.5,"r":-62.8},{"s":"G3","c":0.04,"y":250,"l":-65.5,"r":-63},{"s":"G3","c":0.04,"y":300,"l":-64.2,"r":-63},{"s":"G3","c":0.04,"y":335,"l":-63.5,"r":-63.2},
{"s":"G4","c":0.06,"y":200,"l":-66,"r":-63.5},{"s":"G4","c":0.06,"y":225,"l":-65.5,"r":-63.8},{"s":"G4","c":0.06,"y":240,"l":-64.9,"r":-64.5},
{"s":"G5","c":0.04,"y":800,"l":-60,"r":-59.4},{"s":"G5","c":0.04,"y":850,"l":-60.5,"r":-58.8},
{"s":"G6","c":0.04,"y":285,"l":-50.6,"r":-50.4},{"s":"G6","c":0.04,"y":320,"l":-50.8,"r":-50.1},{"s":"G6","c":0.04,"y":340,"l":-50.6,"r":-50.3},
{"s":"G7","c":0.04,"y":200,"l":-37,"r":-34.5},{"s":"G7","c":0.04,"y":225,"l":-36.5,"r":-35},{"s":"G7","c":0.04,"y":240,"l":-36,"r":-35.5},
{"s":"G8","c":0.04,"y":200,"l":-10,"r":-4.6},{"s":"G8","c":0.04,"y":220,"l":-9,"r":-5.7},{"s":"G8","c":0.04,"y":240,"l":-8.2,"r":-7},
{"s":"G9","c":0.04,"y":780,"l":25,"r":26.4},{"s":"G9","c":0.04,"y":820,"l":24.3,"r":26.5},{"s":"G9","c":0.04,"y":850,"l":24,"r":26.5},
{"s":"G10","c":0.06,"y":815,"l":24.8,"r":26.2},{"s":"G10","c":0.06,"y":850,"l":24.4,"r":26.4},
{"s":"G11","c":0.04,"y":290,"l":64,"r":64.6},{"s":"G11","c":0.04,"y":310,"l":63.9,"r":64.8},{"s":"G11","c":0.04,"y":330,"l":64.1,"r":64.5},
{"s":"G12","c":0.04,"y":200,"l":82,"r":86},{"s":"G12","c":0.04,"y":300,"l":82.6,"r":85.6},{"s":"G12","c":0.04,"y":400,"l":82.5,"r":85},{"s":"G12","c":0.04,"y":500,"l":82.8,"r":84.5},{"s":"G12","c":0.04,"y":550,"l":83.2,"r":84.2},
{"s":"G13","c":0.06,"y":235,"l":83.4,"r":85.5},{"s":"G13","c":0.06,"y":260,"l":82.8,"r":85.5},{"s":"G13","c":0.06,"y":300,"l":82.8,"r":85.4},{"s":"G13","c":0.06,"y":350,"l":83,"r":85},{"s":"G13","c":0.06,"y":400,"l":83.3,"r":84.6},{"s":"G13","c":0.06,"y":430,"l":83.7,"r":84.1},
{"s":"G14","c":0.08,"y":280,"l":83.4,"r":85},{"s":"G14","c":0.08,"y":310,"l":83.4,"r":85},{"s":"G14","c":0.08,"y":340,"l":83.6,"r":84.7},
{"s":"G15","c":0.04,"y":790,"l":57.3,"r":58.5},{"s":"G15","c":0.04,"y":820,"l":57.3,"r":59},{"s":"G15","c":0.04,"y":850,"l":57.2,"r":59.3}
],
"g":[
{"i":0,"i2":1,"c":-0.2},{"i":1,"i2":2,"c":-0.18},{"i":2,"i2":3,"c":-0.16},{"i":3,"i2":4,"c":-0.14},{"i":4,"i2":5,"c":-0.12},{"i":5,"i2":6,"c":-0.1},{"i":6,"i2":7,"c":-0.08},{"i":7,"i2":8,"c":-0.06},{"i":8,"i2":9,"c":-0.04},{"i":9,"i2":10,"c":-0.02},{"i":10,"i2":11,"c":0.02},{"i":11,"i2":12,"c":0.04},{"i":12,"i2":13,"c":0.06},{"i":13,"i2":14,"c":0.08},{"i":14,"i2":15,"c":0.1},{"i":15,"i2":16,"c":0.12},{"i":16,"i2":17,"c":0.14},{"i":17,"i2":18,"c":0.16},{"i":18,"i2":19,"c":0.18}
],
"h":[
{"s":"lo","c":-0.22,"i":-0.98,"t":0.5,"b":0.5},{"s":"lo","c":-0.22,"i":0,"t":0,"b":1},
{"s":"hi","c":0.2,"i":19,"t":0,"b":1},{"s":"hi","c":0.2,"i":20.07,"t":0.5,"b":0.5}
]
},
"vconcat":[
{"bounds":"flush","spacing":51.2,"vconcat":[
{"title":"EXPT\u00a0\u00a01","width":472,"height":181,"layer":[
{"data":{"name":"m"},"transform":[{"filter":"datum.s!='c2b'"}],"mark":{"type":"area","orient":"vertical","interpolate":"linear"},"encoding":{"x":{"field":"x","type":"quantitative","scale":{"domain":[-90,90],"nice":false,"zero":false},"axis":{"values":[-90,-60,-30,0,30,60,90],"tickCount":7,"labelExpr":"datum.value==0?'EQ':datum.value==90?'':datum.value<0?abs(datum.value)+'S':datum.value+'N'"}},"y":{"field":"t","type":"quantitative","scale":{"domain":[850,200],"nice":false,"zero":false},"axis":{"values":[200,250,300,350,400,450,500,550,600,650,700,750,800,850],"tickCount":14}},"y2":{"field":"b"},"detail":{"field":"s"},"color":{"field":"c","type":"nominal","legend":null,"scale":{"domain":[-0.22,-0.2,-0.18,-0.16,-0.14,-0.12,-0.1,-0.08,-0.06,-0.04,-0.02,0.02,0.04,0.06,0.08,0.1,0.12,0.14,0.16,0.18,0.2],"range":["#17452f","#1a4d3c","#1a5a5f","#0e6f7d","#3f3aa8","#1f4db0","#1285c0","#36a8e6","#4ab2ef","#87d4ff","#c4c4c4","#f0f020","#d4d420","#c8b820","#dba82e","#e9a036","#da853b","#cd6347","#b83d24","#7f1a1a","#5a0a0a"]}}}},
{"data":{"name":"gx"},"mark":{"type":"rule","stroke":"#999","strokeWidth":1,"strokeDash":[1.5,6],"opacity":0.85},"encoding":{"x":{"field":"x","type":"quantitative"}}},
{"data":{"name":"gy"},"mark":{"type":"rule","stroke":"#999","strokeWidth":1,"strokeDash":[1.5,6],"opacity":0.85},"encoding":{"y":{"field":"y","type":"quantitative"}}},
{"data":{"name":"f"},"mark":{"type":"rect","fill":"transparent","stroke":"#111","strokeWidth":1.5},"encoding":{"x":{"field":"x","type":"quantitative"},"x2":{"field":"x2"},"y":{"field":"t","type":"quantitative"},"y2":{"field":"b"}}},
{"data":{"name":"n"},"mark":{"type":"text","font":"Liberation Sans","fontSize":11,"color":"#333","baseline":"middle","align":"center"},"encoding":{"x":{"field":"x","type":"quantitative"},"y":{"field":"y","type":"quantitative"},"text":{"field":"txt"}}}
]},
{"title":"CTL","width":472,"height":181,"layer":[
{"data":{"name":"m"},"transform":[{"filter":"datum.s!='c2a'"}],"mark":{"type":"area","orient":"vertical","interpolate":"linear"},"encoding":{"x":{"field":"x","type":"quantitative","scale":{"domain":[-90,90],"nice":false,"zero":false},"axis":{"values":[-90,-60,-30,0,30,60,90],"tickCount":7,"labelExpr":"datum.value==0?'EQ':datum.value==90?'':datum.value<0?abs(datum.value)+'S':datum.value+'N'"}},"y":{"field":"t","type":"quantitative","scale":{"domain":[850,200],"nice":false,"zero":false},"axis":{"values":[200,250,300,350,400,450,500,550,600,650,700,750,800,850],"tickCount":14}},"y2":{"field":"b"},"detail":{"field":"s"},"color":{"field":"c","type":"nominal","legend":null,"scale":{"domain":[-0.22,-0.2,-0.18,-0.16,-0.14,-0.12,-0.1,-0.08,-0.06,-0.04,-0.02,0.02,0.04,0.06,0.08,0.1,0.12,0.14,0.16,0.18,0.2],"range":["#17452f","#1a4d3c","#1a5a5f","#0e6f7d","#3f3aa8","#1f4db0","#1285c0","#36a8e6","#4ab2ef","#87d4ff","#c4c4c4","#f0f020","#d4d420","#c8b820","#dba82e","#e9a036","#da853b","#cd6347","#b83d24","#7f1a1a","#5a0a0a"]}}}},
{"data":{"name":"gx"},"mark":{"type":"rule","stroke":"#999","strokeWidth":1,"strokeDash":[1.5,6],"opacity":0.85},"encoding":{"x":{"field":"x","type":"quantitative"}}},
{"data":{"name":"gy"},"mark":{"type":"rule","stroke":"#999","strokeWidth":1,"strokeDash":[1.5,6],"opacity":0.85},"encoding":{"y":{"field":"y","type":"quantitative"}}},
{"data":{"name":"f"},"mark":{"type":"rect","fill":"transparent","stroke":"#111","strokeWidth":1.5},"encoding":{"x":{"field":"x","type":"quantitative"},"x2":{"field":"x2"},"y":{"field":"t","type":"quantitative"},"y2":{"field":"b"}}},
{"data":{"name":"n"},"mark":{"type":"text","font":"Liberation Sans","fontSize":11,"color":"#333","baseline":"middle","align":"center"},"encoding":{"x":{"field":"x","type":"quantitative"},"y":{"field":"y","type":"quantitative"},"text":{"field":"txt"}}}
]},
{"title":"EXPT\u00a0\u00a01\u00a0\u00a0\u2013\u00a0\u00a0CTL","width":472,"height":181,"layer":[
{"data":{"name":"d"},"mark":{"type":"area","orient":"horizontal","interpolate":"linear"},"encoding":{"y":{"field":"y","type":"quantitative","scale":{"domain":[850,200],"nice":false,"zero":false},"axis":{"values":[200,250,300,350,400,450,500,550,600,650,700,750,800,850],"tickCount":14}},"x":{"field":"l","type":"quantitative","scale":{"domain":[-90,90],"nice":false,"zero":false},"axis":{"values":[-90,-60,-30,0,30,60,90],"tickCount":7,"labelExpr":"datum.value==0?'EQ':datum.value==90?'':datum.value<0?abs(datum.value)+'S':datum.value+'N'"}},"x2":{"field":"r"},"detail":{"field":"s"},"color":{"field":"c","type":"nominal","legend":null,"scale":{"domain":[-0.22,-0.2,-0.18,-0.16,-0.14,-0.12,-0.1,-0.08,-0.06,-0.04,-0.02,0.02,0.04,0.06,0.08,0.1,0.12,0.14,0.16,0.18,0.2],"range":["#17452f","#1a4d3c","#1a5a5f","#0e6f7d","#3f3aa8","#1f4db0","#1285c0","#36a8e6","#4ab2ef","#87d4ff","#c4c4c4","#f0f020","#d4d420","#c8b820","#dba82e","#e9a036","#da853b","#cd6347","#b83d24","#7f1a1a","#5a0a0a"]}}}},
{"data":{"name":"gx"},"mark":{"type":"rule","stroke":"#999","strokeWidth":1,"strokeDash":[1.5,6],"opacity":0.85},"encoding":{"x":{"field":"x","type":"quantitative"}}},
{"data":{"name":"gy"},"mark":{"type":"rule","stroke":"#999","strokeWidth":1,"strokeDash":[1.5,6],"opacity":0.85},"encoding":{"y":{"field":"y","type":"quantitative"}}},
{"data":{"name":"f"},"mark":{"type":"rect","fill":"transparent","stroke":"#111","strokeWidth":1.5},"encoding":{"x":{"field":"x","type":"quantitative"},"x2":{"field":"x2"},"y":{"field":"t","type":"quantitative"},"y2":{"field":"b"}}},
{"data":{"name":"n"},"mark":{"type":"text","font":"Liberation Sans","fontSize":11,"color":"#333","baseline":"middle","align":"center"},"encoding":{"x":{"field":"x","type":"quantitative"},"y":{"field":"y","type":"quantitative"},"text":{"field":"txt"}}}
]}
]},
{"width":472,"height":16.6,"layer":[
{"data":{"name":"h"},"mark":{"type":"area","orient":"vertical"},"encoding":{"x":{"field":"i","type":"quantitative","scale":{"domain":[-1.275,20.375],"nice":false,"zero":false},"axis":{"values":[0,1,2,3,4,5,6,7,8,9,10,11,12,13,14,15,16,17,18,19],"tickCount":20,"labelExpr":"['\u22120.2','\u22120.18','\u22120.16','\u22120.14','\u22120.12','\u22120.1','\u22120.08','\u22120.06','\u22120.04','\u22120.02','0.02','0.04','0.06','0.08','0.1','0.12','0.14','0.16','0.18','0.2'][datum.value]","labelFontSize":8.5,"ticks":false,"labelPadding":2}},"y":{"field":"t","type":"quantitative","scale":{"domain":[1,0],"nice":false},"axis":null},"y2":{"field":"b"},"detail":{"field":"s"},"color":{"field":"c","type":"nominal","legend":null,"scale":{"domain":[-0.22,-0.2,-0.18,-0.16,-0.14,-0.12,-0.1,-0.08,-0.06,-0.04,-0.02,0.02,0.04,0.06,0.08,0.1,0.12,0.14,0.16,0.18,0.2],"range":["#17452f","#1a4d3c","#1a5a5f","#0e6f7d","#3f3aa8","#1f4db0","#1285c0","#36a8e6","#4ab2ef","#87d4ff","#c4c4c4","#f0f020","#d4d420","#c8b820","#dba82e","#e9a036","#da853b","#cd6347","#b83d24","#7f1a1a","#5a0a0a"]}}}},
{"data":{"name":"g"},"mark":{"type":"rect","stroke":"#222","strokeWidth":1,"strokeOpacity":0.8},"encoding":{"x":{"field":"i","type":"quantitative"},"x2":{"field":"i2"},"color":{"field":"c","type":"nominal","legend":null}}}
]}
]
}
